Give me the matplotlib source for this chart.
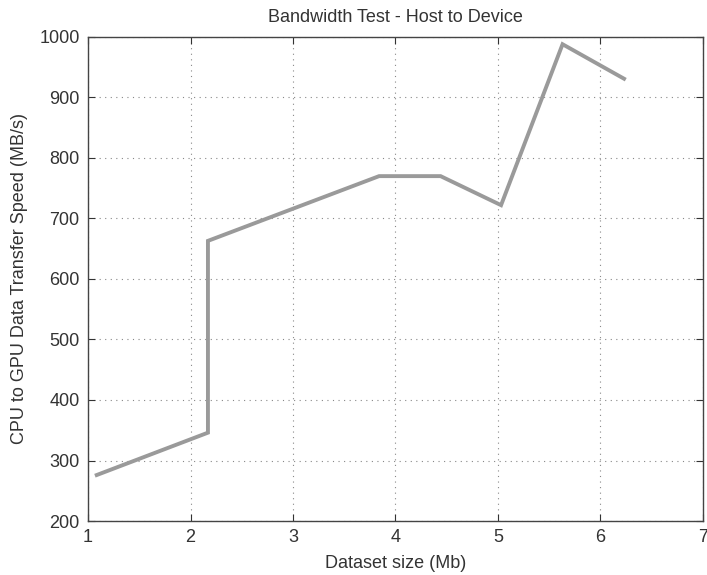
import matplotlib
matplotlib.use("Agg")
import matplotlib.pyplot as plt

plt.rcParams['font.family'] = ['Liberation Sans', 'DejaVu Sans']

dataset_size = [1.085, 2.17, 2.17, 3.84, 4.44, 5.03, 5.63, 6.23]
speed = [276, 346, 663, 770, 770, 722, 988, 931]
x_ticks = [1, 2, 3, 4, 5, 6, 7]
y_ticks = [200, 300, 400, 500, 600, 700, 800, 900, 1000]

fig = plt.figure(figsize=(7.07, 5.75), dpi=100)
ax = fig.add_axes([0.1245, 0.0939, 0.8698, 0.8418])
ax.plot(dataset_size, speed, color='#9a9a9a', linewidth=2.8, solid_joinstyle='miter')
ax.set_xlim(1, 7)
ax.set_ylim(200, 1000)
ax.set_xticks(x_ticks)
ax.set_yticks(y_ticks)
ax.grid(True, linestyle=(0, (1, 4)), color='#888888', linewidth=0.8)
ax.tick_params(direction='in', top=True, right=True, length=5, labelsize=13,
               colors='#333333', labelcolor='#333333', pad=6)
for s in ax.spines.values():
    s.set_color('#444444')
    s.set_linewidth(1.0)
ax.set_xlabel('Dataset size (Mb)', fontsize=13, color='#333333', labelpad=6)
ax.set_ylabel('CPU to GPU Data Transfer Speed (MB/s)', fontsize=13, color='#333333', labelpad=8)
ax.set_title('Bandwidth Test - Host to Device', fontsize=13, color='#333333', pad=11)
fig.savefig('out.png', dpi=100, facecolor='white')
